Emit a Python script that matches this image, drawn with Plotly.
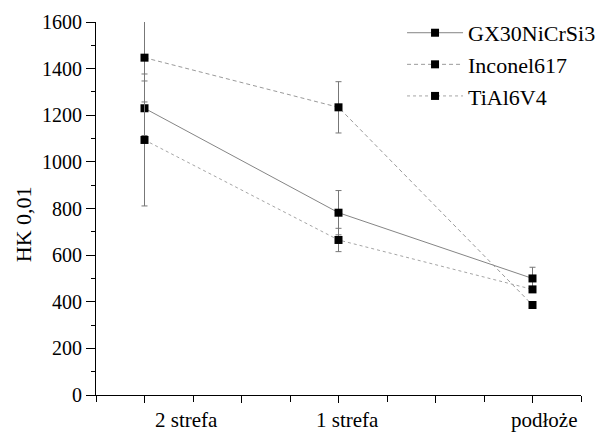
import plotly.graph_objects as go

categories = ["2 strefa", "1 strefa", "podłoże"]
series_names = ["GX30NiCrSi3", "Inconel617", "TiAl6V4"]
gx30 = [1230, 782, 500]
gx30_err = [117, 95, 48]
inconel = [1447, 1234, 386]
inconel_err = [190, 110, 10]
tial = [1094, 665, 453]
tial_err = [283, 50, 10]

x_pos = list(range(1, len(categories) + 1))
FONT = "Liberation Serif"

# style: label offsets (x units) for the hand-placed category captions
label_shift = [0.214, 0.044, 0.059]

fig = go.Figure()
styles = [("solid", "#858585"), ("4px,3px", "#9a9a9a"), ("dot", "#a5a5a5")]
for name, vals, errs, (dash, col) in zip(series_names, [gx30, inconel, tial],
                                         [gx30_err, inconel_err, tial_err], styles):
    fig.add_trace(go.Scatter(
        x=x_pos, y=vals, name=name, mode="lines+markers",
        line=dict(color=col, width=1, dash=dash),
        marker=dict(symbol="square", size=8, color="black"),
        error_y=dict(type="data", array=errs, visible=True, color="#777777",
                     thickness=1, width=3),
    ))

for xp, cat, sh in zip(x_pos, categories, label_shift):
    fig.add_annotation(x=xp + sh, xref="x", y=0, yref="paper", yshift=-25,
                       text=cat, showarrow=False, yanchor="middle",
                       font=dict(family=FONT, size=21, color="black"))

fig.add_annotation(x=-0.1505, xref="paper", y=0.458, yref="paper",
                   text="HK 0,01", textangle=-90, showarrow=False,
                   xanchor="center", yanchor="middle",
                   font=dict(family=FONT, size=22, color="black"))

# figure is made larger than the window so nothing pushes the margins;
# the plot area itself is 485 x 373 px as in the reference
fig.update_layout(
    width=660, height=460,
    margin=dict(l=96, r=79, t=22, b=65),
    paper_bgcolor="white", plot_bgcolor="white",
    font=dict(family=FONT, size=20, color="black"),
    showlegend=True,
    legend=dict(x=0.631, y=1.027, xanchor="left", yanchor="top",
                bgcolor="rgba(0,0,0,0)", font=dict(size=22, family=FONT),
                itemwidth=56),
    xaxis=dict(range=[0.75, 3.25], tickvals=[1, 1.5, 2, 2.5, 3],
               showticklabels=False, automargin=False,
               showgrid=False, zeroline=False, showline=True, linecolor="black",
               linewidth=1, ticks="outside", ticklen=7, tickcolor="black",
               minor=dict(dtick=0.25, tick0=0.75, ticks="outside", ticklen=6,
                          tickcolor="black", showgrid=False)),
    yaxis=dict(range=[0, 1600], dtick=200, showgrid=False, zeroline=False,
               automargin=False,
               showline=True, linecolor="black", linewidth=1,
               ticks="outside", ticklen=9, tickcolor="black",
               minor=dict(dtick=100, ticks="outside", ticklen=4,
                          tickcolor="black", showgrid=False),
               tickfont=dict(size=20, family=FONT)),
)

fig.write_html("out.html",
               config={"displayModeBar": False},
               post_script="document.body.style.margin='0';"
                           "document.documentElement.style.overflow='hidden';")
